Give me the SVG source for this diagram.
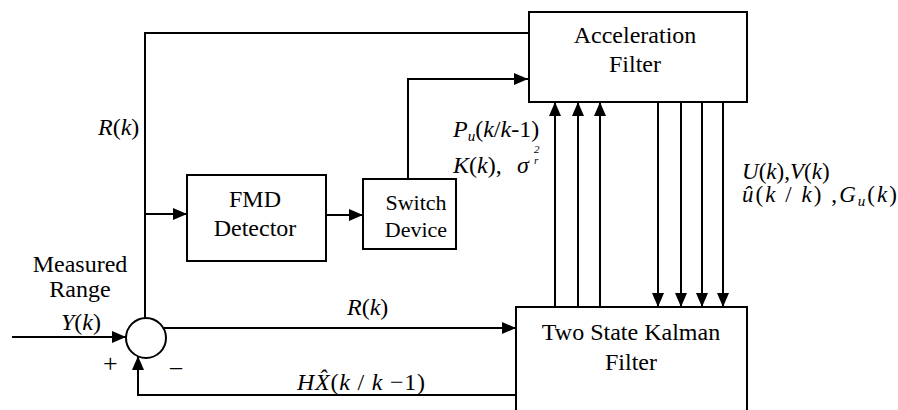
<svg xmlns="http://www.w3.org/2000/svg" width="898" height="410" viewBox="0 0 898 410" font-family="Liberation Serif, serif">
<style>
.box{fill:#fff;stroke:#000;stroke-width:2}
.ln{fill:none;stroke:#000;stroke-width:2}
.arr{marker-end:url(#ah)}
text{font-family:'Liberation Serif',serif;font-size:24px;fill:#000}
.c{text-anchor:middle}
.i{font-style:italic}
.sm{font-size:22px}
.md{font-size:23px}
.big{font-size:26px}
.sub{font-size:15px;font-style:italic}
.tiny{font-size:11px;font-style:italic}
</style>
<defs>
<marker id="ah" markerUnits="userSpaceOnUse" markerWidth="14" markerHeight="12" refX="14" refY="6" orient="auto">
<path d="M0,0 L14,6 L0,12 z" fill="#000"/>
</marker>
</defs>
<rect width="898" height="410" fill="#fff"/>

<g id="connectors">
<path class="ln" d="M145,318 L145,33 L529,33"/>
<path class="ln arr" d="M145,214 L187,214"/>
<path class="ln arr" d="M326,215 L363,215"/>
<path class="ln arr" d="M408,179 L408,79 L528,79"/>
<path class="ln arr" d="M555,307 L555,102"/>
<path class="ln arr" d="M578,307 L578,102"/>
<path class="ln arr" d="M600,307 L600,102"/>
<path class="ln arr" d="M658,102 L658,307"/>
<path class="ln arr" d="M681,102 L681,307"/>
<path class="ln arr" d="M702,102 L702,307"/>
<path class="ln arr" d="M723,102 L723,307"/>
<path class="ln arr" d="M164,328 L516,328"/>
<path class="ln arr" d="M12,337 L126,337"/>
<path class="ln arr" d="M516,395 L138,395 L138,356"/>
</g>

<g id="accel">
<rect class="box" x="529" y="12" width="218" height="90"/>
<text class="c" x="635" y="43">Acceleration</text>
<text class="c" x="635" y="72">Filter</text>
</g>

<g id="kalman">
<rect class="box" x="516" y="307" width="231" height="130"/>
<text class="c" x="631" y="340">Two State Kalman</text>
<text class="c" x="631" y="370">Filter</text>
</g>

<g id="fmd">
<rect class="box" x="187" y="175" width="139" height="86"/>
<text class="c" x="255" y="207">FMD</text>
<text class="c" x="255" y="236">Detector</text>
</g>

<g id="switch">
<rect class="box" x="363" y="179" width="93" height="70"/>
<text class="c sm" x="416" y="210">Switch</text>
<text class="c sm" x="416" y="237">Device</text>
</g>

<g id="sum">
<circle class="ln" cx="146" cy="338" r="20"/>
<text class="big" x="103" y="372">+</text>
<text x="170" y="374">–</text>
</g>

<g id="labels">
<text x="98" y="135"><tspan class="i">R</tspan>(<tspan class="i">k</tspan>)</text>
<text class="c" x="80" y="272">Measured</text>
<text class="c" x="80" y="297">Range</text>
<text class="c" x="81" y="330"><tspan class="i">Y</tspan>(<tspan class="i">k</tspan>)</text>
<text x="347" y="315"><tspan class="i">R</tspan>(<tspan class="i">k</tspan>)</text>
<text x="297" y="390" textLength="128" lengthAdjust="spacing"><tspan class="i">H</tspan><tspan class="i">X̂</tspan>(<tspan class="i">k</tspan> / <tspan class="i">k</tspan> −1)</text>
<text x="453" y="137"><tspan class="i">P</tspan><tspan class="sub" dy="4">u</tspan><tspan dy="-4">(</tspan><tspan class="i">k</tspan>/<tspan class="i">k</tspan>-1)</text>
<text x="453" y="173"><tspan class="i">K</tspan>(<tspan class="i">k</tspan>),</text>
<text class="i" x="517" y="173">σ</text>
<text class="tiny" x="534" y="153">2</text>
<text class="tiny" x="534" y="164">r</text>
<text class="md" x="742" y="179"><tspan class="i">U</tspan>(<tspan class="i">k</tspan>),<tspan class="i">V</tspan>(<tspan class="i">k</tspan>)</text>
<text class="md" x="742" y="202" textLength="155" lengthAdjust="spacing"><tspan class="i">û</tspan>(<tspan class="i">k</tspan> / <tspan class="i">k</tspan>) ,<tspan class="i">G</tspan><tspan class="sub" dy="4">u</tspan><tspan dy="-4">(</tspan><tspan class="i">k</tspan>)</text>
</g>
</svg>
